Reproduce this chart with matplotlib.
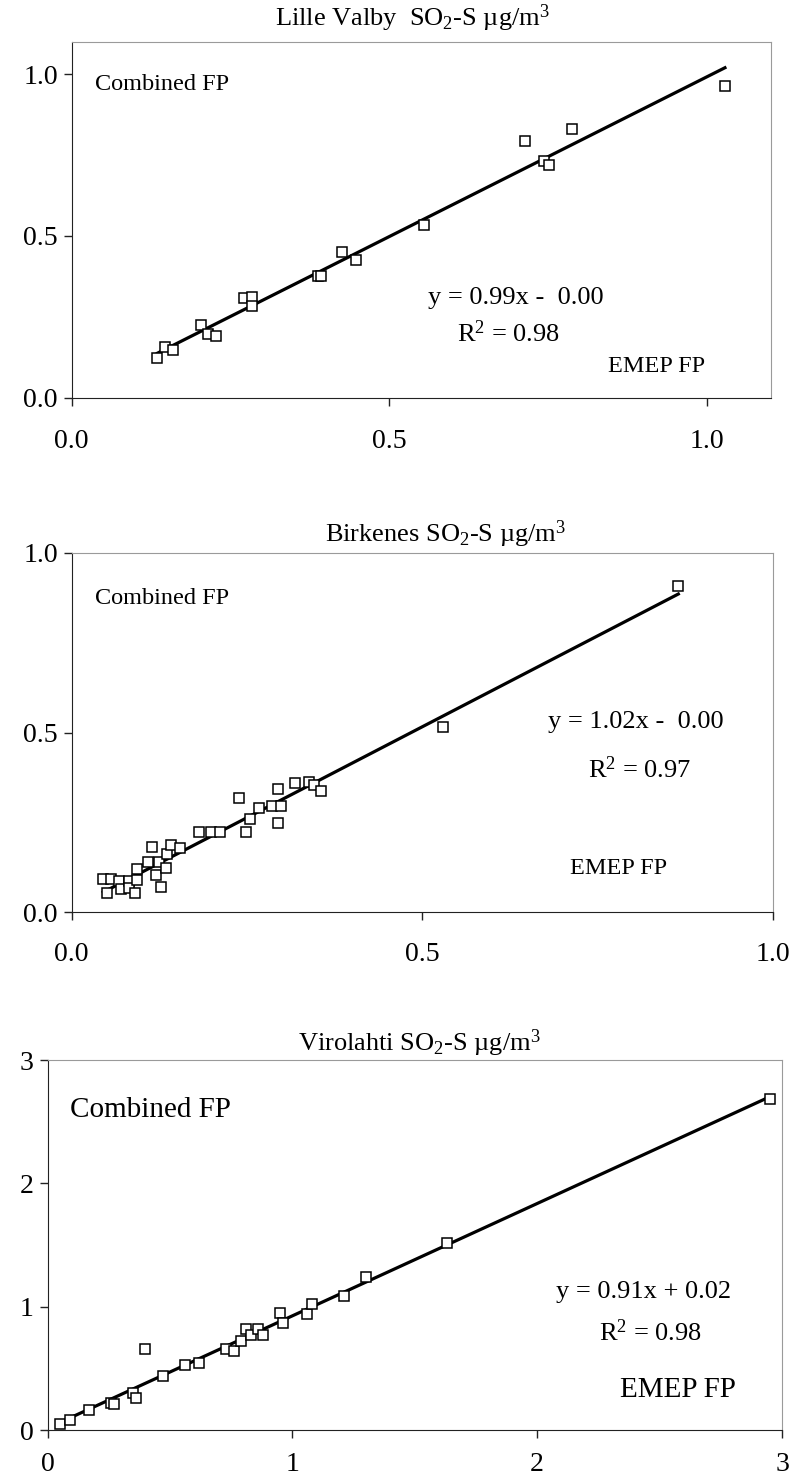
import numpy as np
import matplotlib.pyplot as plt

plt.rcParams['font.family'] = ['Liberation Serif', 'DejaVu Serif']
plt.rcParams['mathtext.fontset'] = 'custom'
plt.rcParams['mathtext.rm'] = 'Liberation Serif'
plt.rcParams['mathtext.it'] = 'Liberation Serif'

# EMEP FP (x) vs Combined FP (y), SO2-S ug/m3
lv_x = [0.135, 0.147, 0.160, 0.203, 0.215, 0.227, 0.271, 0.283, 0.284, 0.387,
        0.393, 0.426, 0.448, 0.555, 0.714, 0.743, 0.751, 0.788, 1.028]
lv_y = [0.121, 0.155, 0.147, 0.224, 0.197, 0.190, 0.307, 0.312, 0.283, 0.376,
        0.376, 0.451, 0.424, 0.534, 0.795, 0.732, 0.720, 0.830, 0.964]

bk_x = [0.045, 0.056, 0.050, 0.068, 0.071, 0.082, 0.082, 0.090, 0.093, 0.093,
        0.109, 0.115, 0.120, 0.125, 0.128, 0.134, 0.136, 0.141, 0.154, 0.182,
        0.198, 0.212, 0.239, 0.249, 0.254, 0.267, 0.286, 0.294, 0.294, 0.298,
        0.319, 0.338, 0.345, 0.356, 0.530, 0.865]
bk_y = [0.092, 0.092, 0.054, 0.087, 0.063, 0.087, 0.066, 0.054, 0.119, 0.089,
        0.140, 0.180, 0.102, 0.140, 0.070, 0.122, 0.161, 0.187, 0.177, 0.223,
        0.223, 0.223, 0.317, 0.223, 0.258, 0.291, 0.295, 0.343, 0.249, 0.295,
        0.358, 0.363, 0.354, 0.337, 0.516, 0.908]

vi_x = [0.05, 0.09, 0.17, 0.26, 0.27, 0.35, 0.36, 0.40, 0.47, 0.56, 0.62, 0.73,
        0.76, 0.79, 0.81, 0.83, 0.86, 0.88, 0.95, 0.96, 1.06, 1.08, 1.21, 1.30,
        1.63, 2.95]
vi_y = [0.05, 0.08, 0.16, 0.22, 0.21, 0.30, 0.26, 0.66, 0.44, 0.53, 0.54, 0.66,
        0.64, 0.72, 0.82, 0.77, 0.82, 0.77, 0.95, 0.87, 0.94, 1.02, 1.09, 1.24,
        1.52, 2.68]

W, H = 794, 1479
fig = plt.figure(figsize=(W / 100, H / 100), dpi=100)


def box(l, t, r, b):
    return [l / W, 1 - b / H, (r - l) / W, (b - t) / H]


def panel(rect, x, y, xlim, ylim, ticks, fmt, xpad):
    ax = fig.add_axes(rect)
    ax.plot(x, y, 's', mfc='white', mec='black', ms=7, mew=1.1, zorder=3)
    k, c = np.polyfit(x, y, 1)
    xs = np.array([min(x), max(x)])
    ax.plot(xs, k * xs + c, color='black', lw=2.3, zorder=2)
    ax.set_xlim(xlim)
    ax.set_ylim(ylim)
    ax.set_xticks(ticks[0])
    ax.set_yticks(ticks[1])
    ax.set_xticklabels([fmt % t for t in ticks[0]])
    ax.set_yticklabels([fmt % t for t in ticks[1]])
    for s in ['top', 'right']:
        ax.spines[s].set_color('#9a9a9a')
    for s in ['left', 'bottom']:
        ax.spines[s].set_color('#222222')
    ax.tick_params(direction='out', length=6, width=1, color='#222222',
                   labelsize=20, pad=4)
    ax.tick_params(axis='x', pad=xpad)
    return ax


panel(box(71.7, 42, 770.7, 397.5), lv_x, lv_y, (0, 1.1), (0, 1.1),
      ([0, 0.5, 1.0], [0, 0.5, 1.0]), '%.1f', 17)
panel(box(71.7, 553, 773, 912), bk_x, bk_y, (0, 1.0), (0, 1.0),
      ([0, 0.5, 1.0], [0, 0.5, 1.0]), '%.1f', 15.5)
panel(box(47.5, 1060, 782, 1430), vi_x, vi_y, (0, 3), (0, 3),
      ([0, 1, 2, 3], [0, 1, 2, 3]), '%d', 10)

titles = ['Lille Valby  SO$_2$-S µg/m$^3$', 'Birkenes SO$_2$-S µg/m$^3$',
          'Virolahti SO$_2$-S µg/m$^3$']
title_pos = [(412, 18), (446, 534), (419, 1043)]
for t, (px, py) in zip(titles, title_pos):
    fig.text(px / W, 1 - py / H, t, ha='center', va='center', fontsize=19)

labels = [
    ('Combined FP', 95, 85, 'left', 17.5), ('EMEP FP', 705, 367, 'right', 17.5),
    ('Combined FP', 95, 598, 'left', 17.5), ('EMEP FP', 619, 868, 'center', 17.5),
    ('Combined FP', 70, 1110, 'left', 21), ('EMEP FP', 678, 1390, 'center', 21),
]
for t, px, py, ha, fs in labels:
    fig.text(px / W, 1 - py / H, t, ha=ha, va='center', fontsize=fs)

fits = [
    ('y = 0.99x -  0.00', 516, 298), ('R$^2$ = 0.98', 508, 334),
    ('y = 1.02x -  0.00', 636, 722), ('R$^2$ = 0.97', 640, 770),
    ('y = 0.91x + 0.02', 644, 1292), ('R$^2$ = 0.98', 650, 1333),
]
for t, px, py in fits:
    fig.text(px / W, 1 - py / H, t, ha='center', va='center', fontsize=19)

fig.savefig('out.png', dpi=100)
